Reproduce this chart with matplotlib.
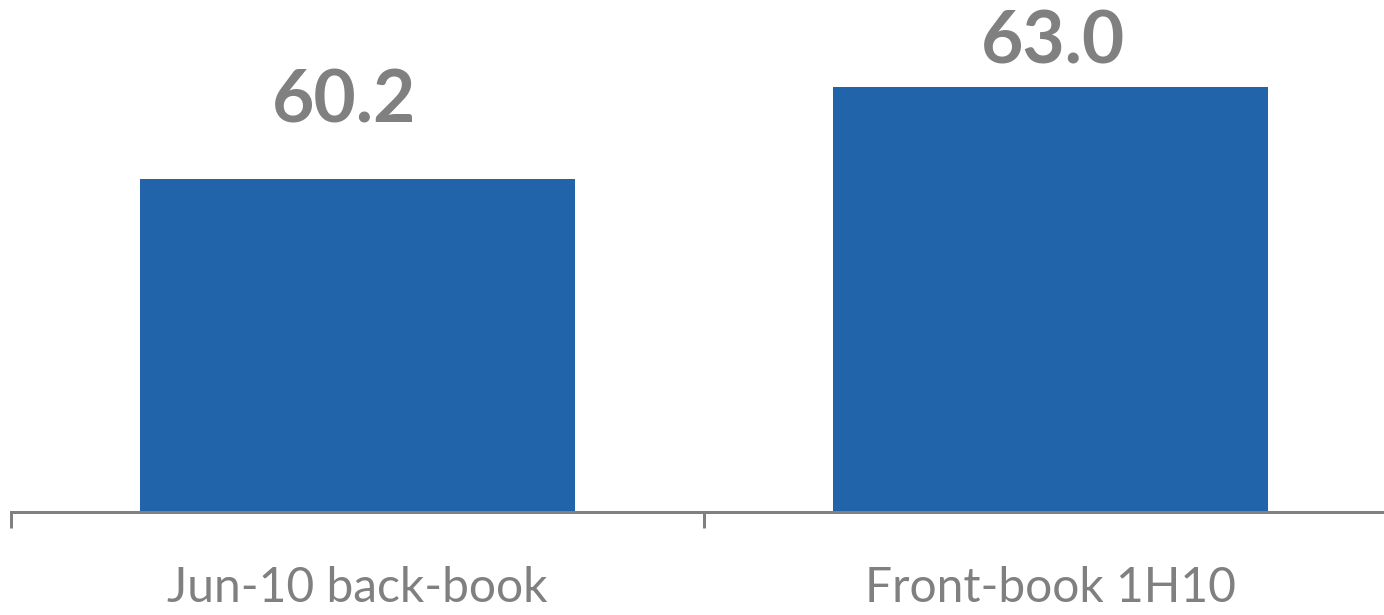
import matplotlib.pyplot as plt

# average loan-to-value, back-book vs front-book
categories = ['Jun-10 back-book', 'Front-book 1H10']
values = [60.2, 63.0]
value_labels = ['60.2', '63.0']

bar_color = '#2164aa'
grey = '#808080'

W, H, DPI = 1384, 615, 72
fig = plt.figure(figsize=(W / DPI, H / DPI), dpi=DPI)

# axes run from the first tick at x=11 px past the right edge, baseline 103 px up
ax = fig.add_axes([11 / W, 103 / H, 1386 / W, 512 / H])

x = list(range(len(categories)))
ax.bar(x, values, width=0.628, color=bar_color, zorder=2)

ax.set_xlim(-0.5, 1.5)
ax.set_ylim(50, 50 + 512 / 32.69)

# value labels above the bars (offsets in points == pixels at 72 dpi)
label_off = [(-13, 56), (3, 24)]
for xi, v, txt, (dx, dy) in zip(x, values, value_labels, label_off):
    ax.annotate(txt, (xi, v), xytext=(dx, dy), textcoords='offset points',
                ha='center', va='baseline', fontsize=73, fontweight='bold',
                color=grey, family='Lato', annotation_clip=False)

for side in ['top', 'right', 'left']:
    ax.spines[side].set_visible(False)
ax.spines['bottom'].set_color(grey)
ax.spines['bottom'].set_linewidth(3)
ax.set_yticks([])

# tick marks at category boundaries, labels centred under each bar
ax.set_xticks([-0.5, 0.5])
ax.set_xticklabels([])
ax.tick_params(axis='x', which='major', length=16, width=3, color=grey)
ax.set_xticks(x, minor=True)
ax.set_xticklabels(categories, minor=True)
ax.tick_params(axis='x', which='minor', length=0, pad=54,
               labelsize=48, labelcolor=grey)
for lbl in ax.get_xticklabels(minor=True):
    lbl.set_family('Lato')

fig.savefig('out.png', dpi=DPI)
